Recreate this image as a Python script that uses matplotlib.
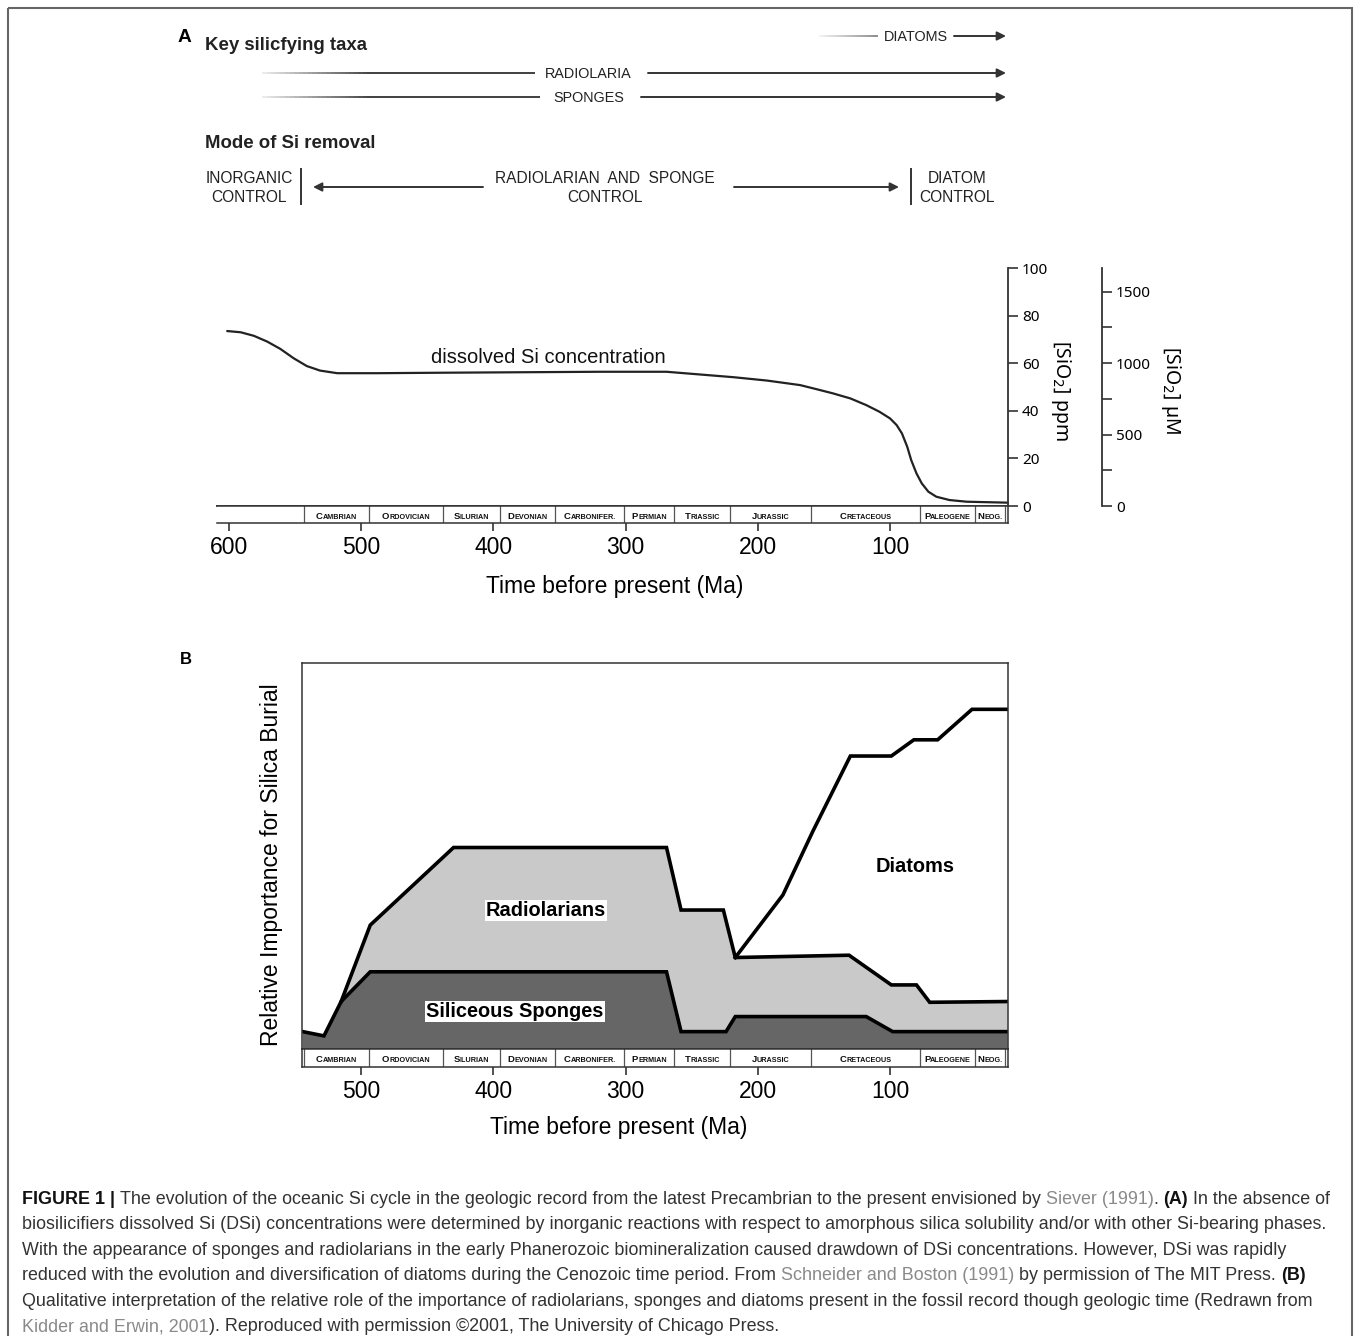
import numpy as np
import matplotlib
matplotlib.use('Agg')
import matplotlib.pyplot as plt
from matplotlib.collections import LineCollection
from matplotlib.patches import Rectangle

plt.rcParams['font.family'] = ['Liberation Sans', 'DejaVu Sans']

W, H = 1358, 1336

# ---- data ----
period_names = ['Cambrian', 'Ordovician', 'Silurian', 'Devonian', 'Carbonifer.',
                'Permian', 'Triassic', 'Jurassic', 'Cretaceous', 'Paleogene', 'Neog.']
period_edges = [543, 494, 438, 395, 353, 301, 263, 221, 160, 77, 36, 13]

# panel A: dissolved Si (ppm) vs age (Ma)
si_age = [601, 591, 581, 571, 561, 551, 541, 531, 518, 488, 438, 319, 269, 218, 193,
          168, 155, 143, 130, 118, 108, 100, 95, 91, 87, 84, 80, 76, 71, 65, 55, 42, 11]
si_ppm = [73.5, 73.0, 71.5, 69.1, 66.0, 62.1, 58.8, 56.9, 55.8, 55.8, 56.0, 56.4, 56.4,
          54.1, 52.7, 50.8, 49.0, 47.3, 45.2, 42.4, 39.6, 36.8, 34.0, 30.5, 24.9, 19.3,
          13.7, 9.5, 6.0, 3.9, 2.5, 1.8, 1.4]

# panel B: relative importance (0-100, qualitative)
sponge_age = [544, 528, 515, 493, 269, 258, 224, 217, 118, 98, 11]
sponge_val = [4.5, 3.4, 12.3, 20.0, 20.0, 4.5, 4.5, 8.4, 8.4, 4.5, 4.5]
radio_age = [515, 493, 430, 269, 258, 226, 217, 131, 99, 80, 70, 11]
radio_val = [12.3, 32.1, 52.2, 52.2, 36.0, 36.0, 23.7, 24.3, 16.6, 16.6, 12.1, 12.3]
diatom_age = [217, 181, 158.5, 130, 99, 82, 64, 38, 11]
diatom_val = [23.7, 39.9, 56.3, 75.9, 75.9, 80.1, 80.1, 88.0, 88.0]

ticks_a = [600, 500, 400, 300, 200, 100]
ticks_b = [500, 400, 300, 200, 100]
ppm_ticks = [0, 20, 40, 60, 80, 100]
um_ticks = [0, 500, 1000, 1500]
um_minor = [250, 750, 1250]
UM_PER_PPM = 1000 / 60.08

fig = plt.figure(figsize=(W / 100, H / 100), dpi=100)
ov = fig.add_axes([0, 0, 1, 1])
ov.set_xlim(0, W)
ov.set_ylim(H, 0)
ov.axis('off')
ov.set_zorder(10)
rend = fig.canvas.get_renderer()


def px_axes(x0, y0, x1, y1):
    return fig.add_axes([x0 / W, 1 - y1 / H, (x1 - x0) / W, (y1 - y0) / H])


def width_of(t):
    return t.get_window_extent(rend).width


def space_w(**kw):
    a = ov.text(0, 0, 'n n', **kw)
    b = ov.text(0, 0, 'nn', **kw)
    w = width_of(a) - width_of(b)
    a.remove()
    b.remove()
    return w


def draw_runs(x, y, parts, ha='left', **base):
    items = []
    for s, kw in parts:
        p = dict(base)
        p.update(kw)
        lead = len(s) - len(s.lstrip(' '))
        trail = len(s) - len(s.rstrip(' '))
        sp = space_w(**p) if (lead or trail) else 0
        t = ov.text(0, y, s.strip(' '), va='baseline', ha='left', **p)
        items.append((t, lead * sp, width_of(t), trail * sp))
    total = sum(a + b + c for _, a, b, c in items)
    cx = x - total / 2 if ha == 'center' else x
    for t, a, b, c in items:
        cx += a
        t.set_x(cx)
        cx += b + c


def arrow(x0, x1, y, col='#333333'):
    ov.annotate('', xy=(x1, y), xytext=(x0, y),
                arrowprops=dict(arrowstyle='-|>', color=col, lw=1.4,
                                mutation_scale=13, shrinkA=0, shrinkB=0))


def fade_line(x0, x1, y, fade, light=0.92, dark=0.25):
    xs = np.linspace(x0, x0 + fade, 25)
    segs = [[(xs[i], y), (xs[i + 1], y)] for i in range(len(xs) - 1)]
    segs.append([(x0 + fade, y), (x1, y)])
    g = list(np.linspace(light, dark, len(xs) - 1)) + [dark]
    ov.add_collection(LineCollection(segs, colors=[(v, v, v) for v in g], linewidths=1.4))


# ---- frame ----
ov.add_patch(Rectangle((8, 8), 1344, 1345, fill=False, ec='#666666', lw=1.5))

# ---- header of panel A ----
ov.text(184, 42, 'A', fontsize=13.8, fontweight='bold', ha='center', va='baseline')
ov.text(205, 50, 'Key silicfying taxa', fontsize=13.4, fontweight='bold', va='baseline', color='#222222')
ov.text(205, 148, 'Mode of Si removal', fontsize=13.4, fontweight='bold', va='baseline', color='#222222')

cap = dict(fontsize=10.4, color='#222222', ha='center', va='baseline')
fade_line(819, 878, 36, 59, light=0.95, dark=0.55)
ov.text(916, 41, 'DIATOMS', **cap)
arrow(954, 1006, 36)
fade_line(262, 535, 73, 110)
ov.text(588, 78, 'RADIOLARIA', **cap)
arrow(648, 1006, 73)
fade_line(262, 540, 97, 110)
ov.text(589, 102, 'SPONGES', **cap)
arrow(641, 1006, 97)

mode = dict(fontsize=11.2, color='#222222', ha='center', va='baseline')
ov.text(249, 183, 'INORGANIC', **mode)
ov.text(249, 202, 'CONTROL', **mode)
ov.plot([301, 301], [169, 204], color='#333333', lw=1.4)
arrow(483, 313, 187)
ov.text(605, 183, 'RADIOLARIAN  AND  SPONGE', **mode)
ov.text(605, 202, 'CONTROL', **mode)
arrow(734, 899, 187)
ov.plot([911, 911], [169, 204], color='#333333', lw=1.4)
ov.text(957, 183, 'DIATOM', **mode)
ov.text(957, 202, 'CONTROL', **mode)

ov.text(186, 664, 'B', fontsize=12, fontweight='bold', ha='center', va='baseline')


def period_strip(ax, xlim, ticks, base_y):
    ax.set_xlim(xlim)
    ax.set_ylim(0, 1)
    ax.set_yticks([])
    for s in ax.spines.values():
        s.set_linewidth(1.1)
        s.set_color('#333333')
    for e in period_edges:
        ax.axvline(e, color='#555555', lw=0.9)
    ax.set_xticks(ticks)
    ax.tick_params(axis='x', direction='out', length=6, width=1.2, pad=3,
                   labelsize=16.5, color='#333333')
    for i, name in enumerate(period_names):
        mid = (period_edges[i] + period_edges[i + 1]) / 2
        cx = ax.transData.transform((mid, 0.5))[0]
        draw_runs(cx, base_y, [(name[0], dict(fontsize=6.8)), (name[1:].upper(), dict(fontsize=5.2))],
                  ha='center', fontweight='bold', color='#111111')


# ---- panel A ----
axA = px_axes(217, 268, 1008, 506)
axA.set_xlim(608.9, 10.8)
axA.set_ylim(0, 100)
axA.plot(si_age, si_ppm, color='#222222', lw=1.6, clip_on=False)
axA.text(358.6, 62.6, 'dissolved Si concentration', fontsize=14.5,
         ha='center', va='center', color='#111111')
for s in ['left', 'top']:
    axA.spines[s].set_visible(False)
for s in ['bottom', 'right']:
    axA.spines[s].set_linewidth(1.3)
    axA.spines[s].set_color('#333333')
axA.set_xticks([])

axU = axA.twinx()
axU.set_ylim(0, 100 * UM_PER_PPM)
for s in ['left', 'top', 'bottom']:
    axU.spines[s].set_visible(False)
axU.spines['right'].set_position(('axes', (1102 - 217) / 791))
axU.spines['right'].set_linewidth(1.3)
axU.spines['right'].set_color('#333333')
axU.set_yticks(um_ticks)
axU.set_yticks(um_minor, minor=True)
axU.tick_params(axis='y', which='both', direction='out', length=7, width=1.2, pad=3,
                labelsize=11, color='#333333', labelfontfamily='Noto Sans')
axU.text((1171 - 217) / 791, 0.487, r'[SiO$_2$] µM', transform=axU.transAxes, rotation=270,
         ha='center', va='center', fontsize=14, family='Noto Sans')

# twinx moves the ppm ticks to the left, so put them back on the right
axA.yaxis.tick_right()
axA.set_yticks(ppm_ticks)
axA.tick_params(axis='y', direction='out', length=7, width=1.2, pad=3, labelsize=11,
                color='#333333', labelfontfamily='Noto Sans')
axA.spines['left'].set_visible(False)
axA.text((1061 - 217) / 791, 0.487, r'[SiO$_2$] ppm', transform=axA.transAxes, rotation=270,
         ha='center', va='center', fontsize=14, family='Noto Sans')

stripA = px_axes(217, 506, 1008, 523)
stripA.spines['left'].set_visible(False)
period_strip(stripA, (608.9, 10.8), ticks_a, 519)
stripA.set_xlabel('Time before present (Ma)', fontsize=16.5)
stripA.xaxis.set_label_coords(0.503, -3.06)

# ---- panel B ----
axB = px_axes(302, 663, 1008, 1049)
axB.set_xlim(544.6, 10.8)
axB.set_ylim(0, 100)
axB.fill(sponge_age + [sponge_age[-1], sponge_age[0]], sponge_val + [0, 0],
         color='#666666', lw=0)
axB.fill(radio_age + sponge_age[2:][::-1], radio_val + sponge_val[2:][::-1],
         color='#c9c9c9', lw=0)
for xs, ys in [(sponge_age, sponge_val), (radio_age, radio_val), (diatom_age, diatom_val)]:
    axB.plot(xs, ys, color='black', lw=2.6, solid_joinstyle='miter')
lab = dict(fontsize=14.4, fontweight='bold', ha='center', va='center')
axB.text(360, 36, 'Radiolarians', bbox=dict(fc='white', ec='none', boxstyle='square,pad=0.05'), **lab)
axB.text(383.6, 9.8, 'Siliceous Sponges', bbox=dict(fc='white', ec='none', boxstyle='square,pad=0.05'), **lab)
axB.text(81, 47.4, 'Diatoms', **lab)
axB.set_xticks([])
axB.set_yticks([])
for s in axB.spines.values():
    s.set_linewidth(1.1)
    s.set_color('#333333')
axB.set_ylabel('Relative Importance for Silica Burial', fontsize=16.5)
axB.yaxis.set_label_coords(-0.027, 0.477)

stripB = px_axes(302, 1049, 1008, 1067)
period_strip(stripB, (544.6, 10.8), ticks_b, 1062)
stripB.set_xlabel('Time before present (Ma)', fontsize=16.5)
stripB.xaxis.set_label_coords(0.448, -2.73)

# ---- caption ----
N = dict()
BD = dict(fontweight='bold', color='#111111')
LK = dict(color='#8a8a8a')
cap_lines = [
    [('FIGURE 1 |', BD),
     (' The evolution of the oceanic Si cycle in the geologic record from the latest Precambrian to the present envisioned by ', N),
     ('Siever (1991)', LK), ('. ', N), ('(A)', BD), (' In the absence of', N)],
    [('biosilicifiers dissolved Si (DSi) concentrations were determined by inorganic reactions with respect to amorphous silica solubility and/or with other Si-bearing phases.', N)],
    [('With the appearance of sponges and radiolarians in the early Phanerozoic biomineralization caused drawdown of DSi concentrations. However, DSi was rapidly', N)],
    [('reduced with the evolution and diversification of diatoms during the Cenozoic time period. From ', N),
     ('Schneider and Boston (1991)', LK), (' by permission of The MIT Press. ', N), ('(B)', BD)],
    [('Qualitative interpretation of the relative role of the importance of radiolarians, sponges and diatoms present in the fossil record though geologic time (Redrawn from', N)],
    [('Kidder and Erwin, 2001', LK), ('). Reproduced with permission ©2001, The University of Chicago Press.', N)],
]
for i, parts in enumerate(cap_lines):
    draw_runs(22, 1204 + 25.4 * i, parts, fontsize=12.9, color='#333333')

fig.savefig('out.png', dpi=100)
